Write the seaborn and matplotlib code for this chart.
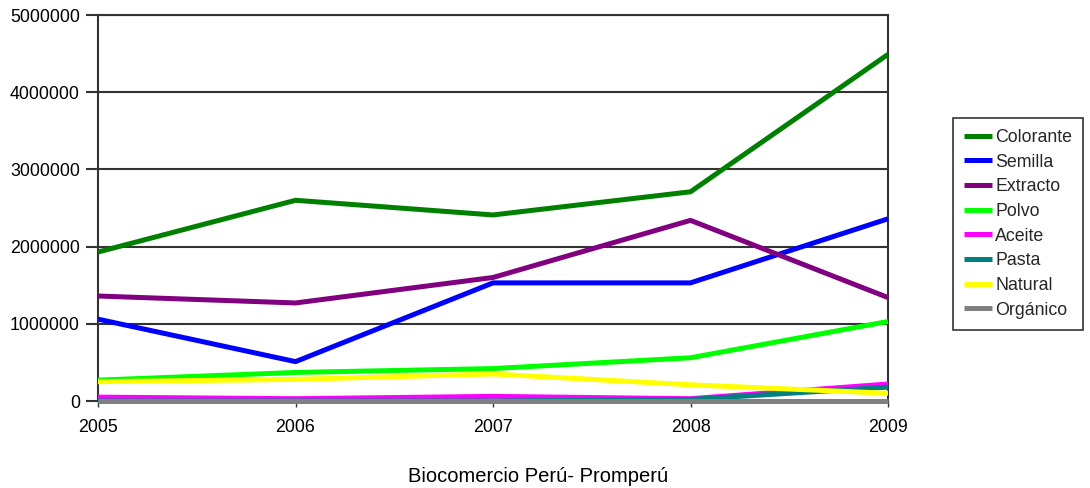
import matplotlib
matplotlib.use("Agg")
import matplotlib.pyplot as plt
import seaborn as sns
import pandas as pd

# Export values by product line, 2005-2009
years = [2005, 2006, 2007, 2008, 2009]
colorante = [1930000, 2600000, 2410000, 2710000, 4490000]
semilla = [1060000, 510000, 1530000, 1530000, 2360000]
extracto = [1360000, 1270000, 1600000, 2340000, 1340000]
polvo = [270000, 370000, 420000, 560000, 1030000]
aceite = [50000, 30000, 60000, 30000, 220000]
pasta = [0, 0, 0, 20000, 180000]
natural = [250000, 280000, 350000, 210000, 100000]
organico = [0, 0, 0, 0, 0]

series_names = ["Colorante", "Semilla", "Extracto", "Polvo", "Aceite",
                "Pasta", "Natural", "Orgánico"]
series_values = [colorante, semilla, extracto, polvo, aceite, pasta,
                 natural, organico]
series_colors = ["#008000", "#0000FF", "#800080", "#00FF00", "#FF00FF",
                 "#008080", "#FFFF00", "#808080"]
y_ticks = [0, 1000000, 2000000, 3000000, 4000000, 5000000]
caption = "Biocomercio Perú- Promperú"

rows = []
for name, vals in zip(series_names, series_values):
    for yr, v in zip(years, vals):
        rows.append({"Año": yr, "Valor": v, "Producto": name})
df = pd.DataFrame(rows)

sns.set_theme(style="white")
plt.rcParams["font.family"] = ["Liberation Sans", "DejaVu Sans"]
plt.rcParams["font.size"] = 12.5

fig = plt.figure(figsize=(10.9, 4.88), dpi=100)
ax = fig.add_axes([98 / 1090, 1 - 401 / 488, 790 / 1090, 386 / 488])

edge = "#333333"
ax.set_ylim(0, 5000000)
ax.set_xlim(2005, 2009)
ax.set_yticks(y_ticks)
ax.set_yticklabels([str(t) for t in y_ticks])
ax.set_xticks(years)
ax.set_xticklabels([str(y) for y in years])
ax.yaxis.grid(True, color=edge, linewidth=1.5)
ax.set_axisbelow(True)
ax.tick_params(axis="y", direction="out", length=9, width=1.5, color=edge,
               pad=4, labelsize=12.8, labelcolor="black", left=True)
ax.tick_params(axis="x", direction="out", length=4, width=1, color=edge,
               pad=9, labelsize=12.8, labelcolor="black", bottom=True)
for s in ax.spines.values():
    s.set_visible(True)
    s.set_color(edge)
    s.set_linewidth(1.5)

sns.lineplot(data=df, x="Año", y="Valor", hue="Producto",
             hue_order=series_names, palette=series_colors,
             linewidth=3.6, ax=ax, legend=True, estimator=None)
for line in ax.lines:
    line.set_zorder(3)
    line.set_clip_on(False)
    line.set_solid_capstyle("butt")

ax.set_xlabel("")
ax.set_ylabel("")

handles, labels = ax.get_legend_handles_labels()
ax.get_legend().remove()
leg = fig.legend(handles, labels, loc="upper left",
                 bbox_to_anchor=(953 / 1090, 1 - 118 / 488),
                 bbox_transform=fig.transFigure, borderaxespad=0,
                 frameon=True, fancybox=False, shadow=False,
                 fontsize=12.8, handlelength=1.6, handletextpad=0.15,
                 labelspacing=0.43, borderpad=0.62)
leg.get_frame().set_edgecolor("black")
leg.get_frame().set_linewidth(1.2)
for h in leg.get_lines():
    h.set_linewidth(3.6)

fig.text(538 / 1090, 1 - 476 / 488, caption, ha="center", va="center",
         fontsize=14.5, color="black")

fig.savefig("out.png", dpi=100, facecolor="white")
